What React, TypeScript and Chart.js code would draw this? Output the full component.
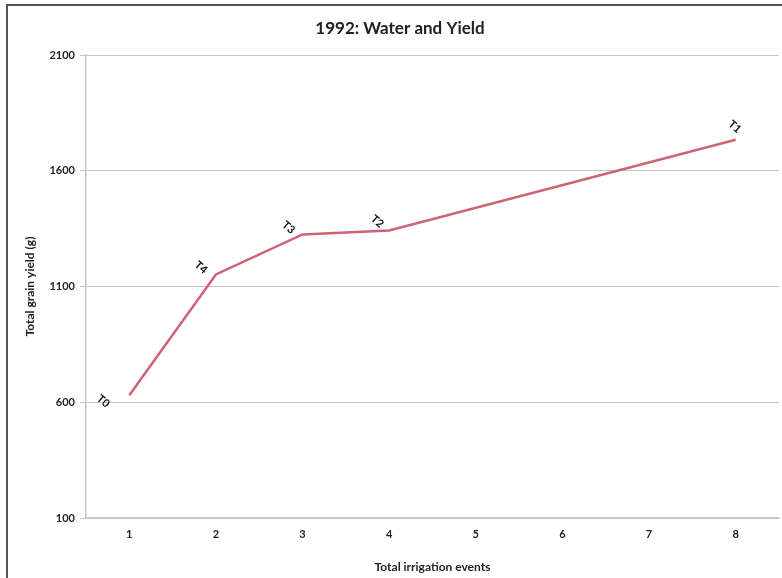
import React, { useEffect, useRef } from "react";
import { Chart, registerables } from "chart.js";

Chart.register(...registerables);

const categories = ["1", "2", "3", "4", "5", "6", "7", "8"];
const yieldValues: (number | null)[] = [630, 1152, 1325, 1342, null, null, null, 1734];
const pointLabels: (string | null)[] = ["T0", "T4", "T3", "T2", null, null, null, "T1"];
const yTicks = [100, 600, 1100, 1600, 2100];
const chartTitle = "1992: Water and Yield";
const xTitle = "Total irrigation events";
const yTitle = "Total grain yield (g)";

const labelOffsets: Record<string, [number, number]> = {
  T0: [-26, 6],
  T4: [-15, -7],
  T3: [-14, -7],
  T2: [-12, -9],
  T1: [-1, -13],
};

const decorPlugin = {
  id: "decor",
  beforeDraw(chart: any) {
    const ctx = chart.ctx;
    ctx.save();
    ctx.fillStyle = "#ffffff";
    ctx.fillRect(0, 0, chart.width, chart.height);
    ctx.strokeStyle = "#555555";
    ctx.lineWidth = 2;
    ctx.strokeRect(7, 5, chart.width + 20, chart.height + 20);
    ctx.restore();
  },
  afterDraw(chart: any) {
    const ctx = chart.ctx;
    const area = chart.chartArea;
    ctx.save();
    ctx.fillStyle = "#222222";
    ctx.textAlign = "center";
    ctx.textBaseline = "middle";
    ctx.font = "bold 17px Lato";
    ctx.fillText(chartTitle, 400, 29);
    ctx.font = "bold 12px Lato";
    ctx.fillText(xTitle, (area.left + area.right) / 2, 567);
    ctx.save();
    ctx.translate(30, (area.top + area.bottom) / 2);
    ctx.rotate(-Math.PI / 2);
    ctx.fillText(yTitle, 0, 0);
    ctx.restore();

    const meta = chart.getDatasetMeta(0);
    ctx.font = "bold 11px Lato";
    ctx.fillStyle = "#111111";
    pointLabels.forEach((lab, i) => {
      if (!lab) return;
      const pt = meta.data[i];
      if (!pt) return;
      const off = labelOffsets[lab] || [-12, -9];
      ctx.save();
      ctx.translate(pt.x + off[0], pt.y + off[1]);
      ctx.rotate((40 * Math.PI) / 180);
      ctx.fillText(lab, 0, 0);
      ctx.restore();
    });
    ctx.restore();
  },
};

export default function App() {
  const ref = useRef<HTMLCanvasElement | null>(null);
  useEffect(() => {
    if (!ref.current) return;
    const chart = new Chart(ref.current, {
      type: "line",
      data: {
        labels: categories,
        datasets: [
          {
            data: yieldValues,
            borderColor: "#cc6476",
            borderWidth: 2.5,
            pointRadius: 0,
            spanGaps: true,
            tension: 0,
          },
        ],
      },
      options: {
        animation: false,
        responsive: false,
        maintainAspectRatio: false,
        layout: { padding: { top: 55, right: 3, left: 0, bottom: 0 } },
        plugins: {
          legend: { display: false },
          title: { display: false },
          tooltip: { enabled: false },
        },
        scales: {
          x: {
            offset: true,
            grid: { display: false, drawTicks: false },
            border: { display: true, color: "#c8c8c8", width: 1.5 },
            ticks: {
              color: "#222222",
              font: { family: "Lato", size: 11, weight: "bold" },
              padding: 10,
              maxRotation: 0,
            },
            afterFit(scale: any) {
              scale.height = 60;
            },
          },
          y: {
            min: 100,
            max: 2100,
            afterBuildTicks(scale: any) {
              scale.ticks = yTicks.map((v) => ({ value: v }));
            },
            grid: {
              color: "#c4c4c4",
              lineWidth: 1,
              tickLength: 6,
              tickColor: "#c4c4c4",
            },
            border: { display: true, color: "#c8c8c8", width: 1.5 },
            ticks: {
              color: "#222222",
              font: { family: "Lato", size: 11, weight: "bold" },
              padding: 5,
              callback: (v: any) => String(v),
            },
            afterFit(scale: any) {
              scale.width = 86;
            },
          },
        },
      },
      plugins: [decorPlugin],
    });
    return () => chart.destroy();
  }, []);
  return (
    <div style={{ position: "fixed", left: 0, top: 0, width: 782, height: 578 }}>
      <canvas ref={ref} width={782} height={578} style={{ display: "block" }} />
    </div>
  );
}
